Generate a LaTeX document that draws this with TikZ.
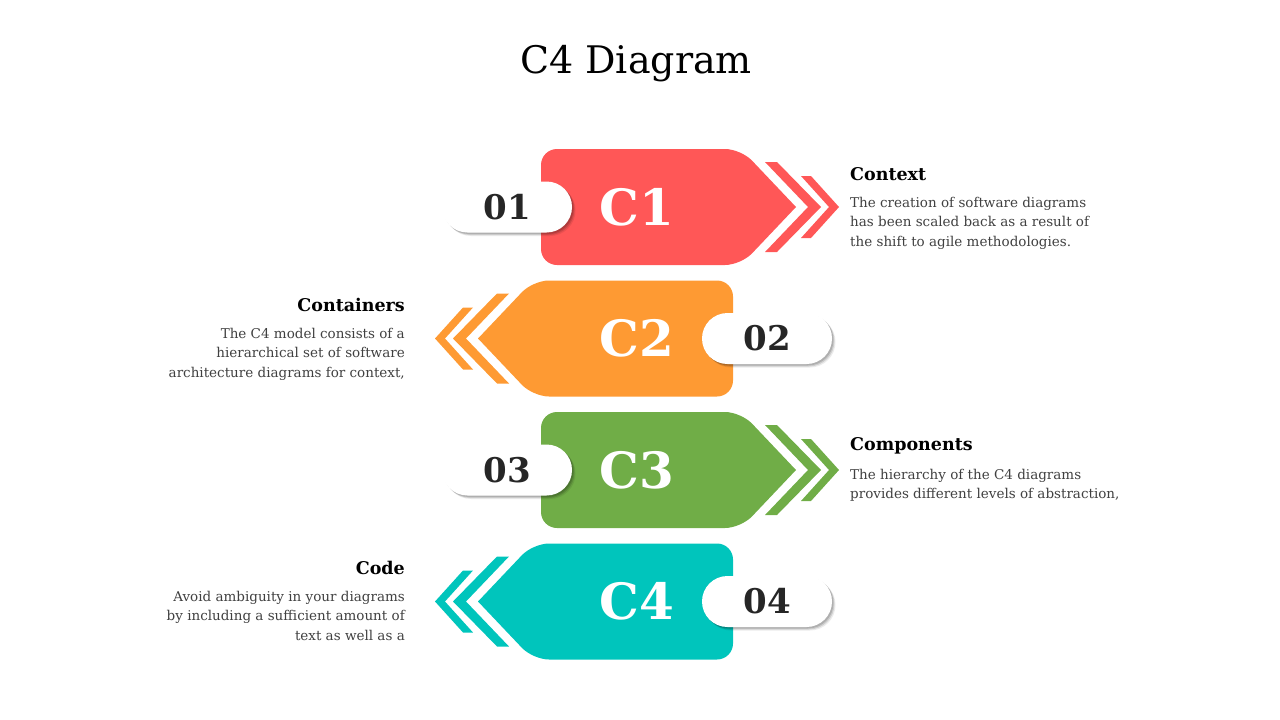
\documentclass[tikz,border=0pt]{standalone}
\usepackage{fontspec}
\setmainfont{DejaVu Serif}
\usetikzlibrary{shadows}

\definecolor{cred}{HTML}{FF5757}
\definecolor{corange}{HTML}{FE9A33}
\definecolor{cgreen}{HTML}{70AD47}
\definecolor{cteal}{HTML}{00C5BC}
\definecolor{numgray}{HTML}{262626}
\definecolor{descgray}{HTML}{404040}

\tikzset{
  pill/.style={fill=white, rounded corners=25.5pt, minimum width=130pt,
    minimum height=51pt, inner sep=0pt, text=numgray,
    font=\bfseries\fontsize{34}{34}\selectfont,
    drop shadow={shadow xshift=3.5pt, shadow yshift=-3.5pt, fill=black, opacity=0.08},
    drop shadow={shadow xshift=2.5pt, shadow yshift=-2.5pt, fill=black, opacity=0.12},
    drop shadow={shadow xshift=1.5pt, shadow yshift=-1.5pt, fill=black, opacity=0.15}},
  clabel/.style={text=white, font=\bfseries\fontsize{50}{50}\selectfont},
  heading/.style={font=\bfseries\fontsize{17.5}{20}\selectfont, inner sep=0pt},
  desc/.style={font=\fontsize{13.5}{19.5}\selectfont, text=descgray, inner sep=0pt},
}

\begin{document}
\begin{tikzpicture}[x=1pt, y=-1pt]
    \useasboundingbox (0,0) rectangle (1280,720);
    % Title
    \node[font=\fontsize{38}{38}\selectfont] (title) at (636,64) {C4 Diagram};
    % Arrow rows
    \foreach \yc/\col/\dir/\num [count=\i] in {207/cred/1/01, 338.5/corange/-1/02,
        470/cgreen/1/03, 601.5/cteal/-1/04} {
      \begin{scope}[shift={(637,\yc)}, xscale=\dir]
        \fill[\col] (159,0) [rounded corners=16pt] -- (104,-58) -- (-96,-58)
            -- (-96,58) -- (104,58) [sharp corners] -- cycle;
        % Chevrons
        \fill[\col] (128,-45) -- (140,-45) -- (184,0) -- (140,45) -- (128,45) -- (171,0) -- cycle;
        \fill[\col] (164,-31) -- (174,-31) -- (202,0) -- (174,31) -- (164,31) -- (192,0) -- cycle;
        \node[clabel] (c\i) at (0,0) {C\i};
        \node[pill] (num\i) at (-130,0) {\num};
      \end{scope}
    }
    % Right texts
    \node[heading, anchor=west] (ctxhead) at (850,174) {Context};
    \node[desc, anchor=north west, align=left] (ctxtext) at (850,197)
        {The creation of software diagrams\\has been scaled back as a result of\\the shift to agile methodologies.};
    \node[heading, anchor=west] (comphead) at (850,446) {Components};
    \node[desc, anchor=north west, align=left] (comptext) at (850,469)
        {The hierarchy of the C4 diagrams\\provides different levels of abstraction,};
    % Left texts
    \node[heading, anchor=east] (conthead) at (405,305) {Containers};
    \node[desc, anchor=north east, align=right] (conttext) at (405,328)
        {The C4 model consists of a\\hierarchical set of software\\architecture diagrams for context,};
    \node[heading, anchor=east] (codehead) at (405,568) {Code};
    \node[desc, anchor=north east, align=right] (codetext) at (405,591)
        {Avoid ambiguity in your diagrams\\by including a sufficient amount of\\text as well as a};
\end{tikzpicture}
\end{document}
